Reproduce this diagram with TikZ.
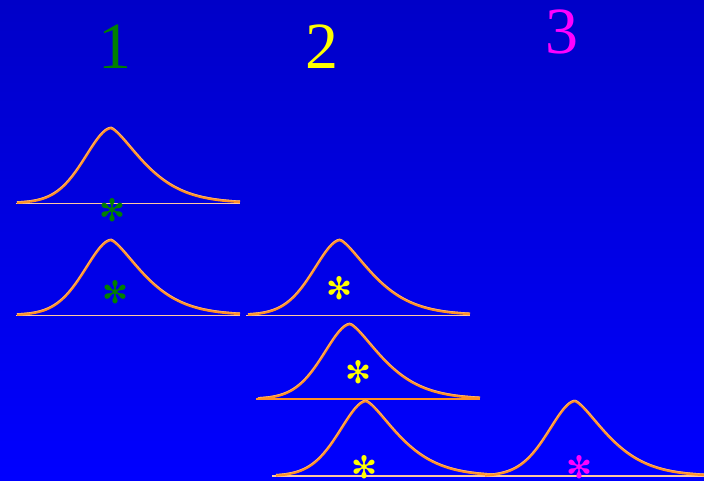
\documentclass[tikz,border=0pt]{standalone}
\usepackage{fontspec}
\setmainfont{Liberation Serif}
\newfontfamily\dingfont{DejaVu Sans}
\usepackage{xcolor}
\definecolor{slide-top}{HTML}{0000C8}
\definecolor{slide-bottom}{HTML}{0000FF}
\definecolor{curve-orange}{HTML}{FF9026}
\definecolor{curve-light}{HTML}{FFB870}
\definecolor{base-pale}{HTML}{FFC8A0}
\definecolor{mark-green}{HTML}{008000}
\definecolor{mark-yellow}{HTML}{FFFF00}
\definecolor{mark-magenta}{HTML}{FF00FF}
\usepackage{tikz}

\begin{document}
\begin{tikzpicture}[
    x=1pt, y=-1pt,
    declare function={
      bell(\d)=75*exp(-0.5*((\d<0)*pow(abs(\d)/26+0.001,1.8)+(\d>=0)*pow(abs(\d)/28.5+0.001,1.4)));
    },
    digit/.style={
      anchor=base,
      font=\fontsize{66}{66}\selectfont
    },
    star/.style={
      inner sep=0pt,
      font=\fontsize{31}{31}\selectfont\dingfont
    },
    baseline/.style={
      draw=base-pale,
      line width=1pt
    },
    curve/.style={
      draw=curve-orange,
      line width=2.6pt,
      line join=round
    },
    curvecore/.style={
      draw=curve-light,
      line width=0.6pt
    }
  ]
    \useasboundingbox (0,0) rectangle (704,480);
    \shade[top color=slide-top, bottom color=slide-bottom] (0,0) rectangle (704,480);

    % Column numbers
    \node[digit, text=mark-green]   (one)   at (115,68) {1};
    \node[digit, text=mark-yellow]  (two)   at (322,68) {2};
    \node[digit, text=mark-magenta] (three) at (562,53) {3};

    % Base lines
    \draw[baseline] (16,203) -- (240,203);
    \draw[baseline] (16,315) -- (240,315);
    \draw[baseline] (246,315) -- (470,315);
    \draw[baseline, draw=curve-orange, line width=2pt] (256,399) -- (480,399);
    \draw[baseline, line width=1.3pt] (272,476) -- (704,476);

    % Curves: peak x / base y / left / right
    \foreach \px/\by/\lo/\hi in {111/203/-94/129, 111/315/-94/129, 340/315/-92/130,
                                 350/399/-92/130, 366/476/-90/127, 575/476/-90/129} {
      \draw[curve] plot[domain=\lo:\hi, samples=110, smooth] ({\px+\x},{\by-bell(\x)});
      \draw[curvecore] plot[domain=\lo:\hi, samples=110, smooth] ({\px+\x},{\by-1-bell(\x)});
    }

    % Asterisks
    \node[star, text=mark-green]   (g1) at (112,210) {✻};
    \node[star, text=mark-green]   (g2) at (115,292) {✻};
    \node[star, text=mark-yellow]  (y1) at (339,288) {✻};
    \node[star, text=mark-yellow]  (y2) at (358,372) {✻};
    \node[star, text=mark-yellow]  (y3) at (364,467) {✻};
    \node[star, text=mark-magenta] (m1) at (579,467) {✻};
\end{tikzpicture}
\end{document}
